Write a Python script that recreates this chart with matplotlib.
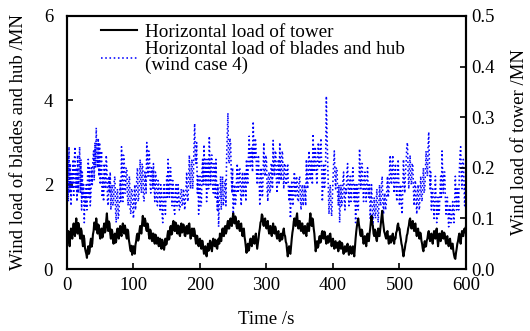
import matplotlib
matplotlib.use("Agg")
import matplotlib.pyplot as plt
import numpy as np

plt.rcParams['font.family'] = ['Liberation Serif', 'DejaVu Serif']
plt.rcParams['font.size'] = 13.5

# one read-off sample per second
time = np.arange(0, 601, 1)

# horizontal load of blades and hub, left axis (MN)
blade_load = [
    2.0, 2.7, 1.6, 2.9, 1.8, 2.5, 1.5, 2.3, 1.9, 2.6,
    1.7, 2.5, 2.9, 1.9, 2.4, 1.6, 2.7, 1.8, 2.2, 2.9,
    1.8, 2.6, 1.4, 2.3, 1.7, 2.0, 1.1, 1.8, 1.5, 2.0,
    1.4, 2.2, 2.6, 1.7, 2.4, 1.5, 1.8, 2.4, 2.0, 2.6,
    2.8, 2.1, 3.0, 2.4, 3.35, 2.6, 2.4, 3.1, 2.2, 3.0,
    2.0, 2.6, 2.8, 1.7, 2.2, 1.6, 2.5, 2.0, 1.9, 2.7,
    2.4, 1.6, 1.5, 2.2, 1.8, 2.3, 1.4, 1.9, 2.0, 1.5,
    1.6, 2.1, 2.2, 1.4, 1.1, 1.8, 1.9, 1.2, 1.3, 1.7,
    2.1, 1.6, 2.9, 2.3, 1.6, 2.7, 2.6, 1.8, 1.8, 2.4,
    2.4, 1.7, 1.5, 2.1, 2.2, 1.4, 1.3, 1.9, 1.9, 1.4,
    1.2, 1.8, 2.0, 1.4, 1.6, 2.2, 2.4, 1.6, 1.7, 2.1,
    2.6, 2.0, 1.8, 2.5, 2.4, 1.7, 1.6, 2.3, 2.2, 1.8,
    3.0, 2.5, 2.2, 2.8, 2.7, 2.0, 1.8, 2.4, 2.4, 1.9,
    2.5, 2.0, 1.6, 2.3, 2.2, 1.6, 1.5, 2.1, 2.0, 1.7,
    1.4, 2.0, 1.9, 1.3, 1.1, 1.7, 2.0, 1.5, 1.3, 1.8,
    2.2, 1.7, 2.6, 2.0, 1.7, 2.4, 2.4, 1.8, 1.5, 2.1,
    1.9, 1.4, 1.3, 1.8, 2.0, 1.5, 1.5, 2.0, 1.8, 1.4,
    1.4, 1.8, 1.9, 1.5, 1.5, 1.9, 1.8, 1.4, 1.6, 1.9,
    2.3, 1.7, 1.6, 2.2, 2.7, 2.0, 1.9, 2.5, 2.6, 1.9,
    2.2, 2.9, 3.45, 2.6, 2.5, 3.0, 1.8, 2.2, 1.3, 1.9,
    2.2, 1.5, 1.5, 2.3, 2.6, 2.0, 2.95, 2.4, 2.0, 2.6,
    1.6, 2.3, 2.6, 1.9, 3.15, 2.4, 2.0, 2.7, 2.7, 2.0,
    1.8, 2.5, 2.4, 1.7, 2.6, 1.9, 1.4, 2.0, 1.0, 1.6,
    1.7, 2.2, 1.4, 1.9, 2.2, 1.5, 1.6, 2.1, 2.1, 1.5,
    2.6, 3.2, 3.7, 2.6, 2.5, 3.1, 3.0, 2.3, 1.8, 2.4,
    1.2, 1.8, 2.0, 1.5, 1.6, 2.1, 2.5, 1.8, 1.9, 2.4,
    2.4, 1.8, 1.5, 2.1, 2.3, 1.7, 1.8, 2.3, 2.2, 1.6,
    2.6, 2.1, 2.0, 2.7, 3.15, 2.5, 2.4, 2.9, 2.9, 2.3,
    3.5, 2.8, 2.6, 3.1, 3.0, 2.3, 2.0, 2.6, 2.7, 2.1,
    1.5, 2.0, 2.4, 1.8, 1.7, 2.4, 3.0, 2.3, 2.2, 2.7,
    2.6, 1.9, 1.6, 2.2, 2.3, 1.8, 1.9, 2.5, 2.5, 1.9,
    3.05, 2.4, 2.2, 2.8, 2.8, 2.1, 1.8, 2.4, 2.6, 2.0,
    3.0, 2.4, 2.1, 2.7, 2.8, 2.2, 1.9, 2.5, 2.5, 2.0,
    2.0, 2.4, 2.5, 1.9, 1.6, 2.0, 1.2, 1.7, 2.1, 1.6,
    1.5, 2.0, 2.3, 1.7, 1.7, 2.2, 2.1, 1.6, 1.6, 2.1,
    2.2, 1.7, 1.4, 1.9, 2.0, 1.5, 1.6, 2.0, 1.9, 1.5,
    2.6, 2.1, 1.9, 2.5, 2.8, 2.2, 2.1, 2.6, 2.5, 2.0,
    3.2, 2.6, 2.3, 2.9, 2.8, 2.2, 2.0, 2.6, 3.0, 2.4,
    2.4, 2.9, 3.1, 2.4, 1.6, 2.1, 2.5, 1.9, 2.0, 2.6,
    4.1, 3.2, 2.6, 1.9, 1.3, 1.8, 2.0, 1.5, 1.25, 1.7,
    2.1, 2.5, 2.8, 2.2, 1.9, 2.4, 2.4, 1.8, 1.5, 2.0,
    1.1, 1.6, 2.0, 1.5, 1.6, 2.1, 2.3, 1.7, 1.4, 1.9,
    1.8, 2.3, 2.5, 1.9, 1.5, 2.0, 2.2, 1.6, 1.7, 2.2,
    2.4, 1.9, 1.6, 2.0, 1.1, 1.5, 2.0, 1.5, 1.4, 1.9,
    2.85, 2.2, 1.9, 2.5, 2.5, 1.9, 1.6, 2.1, 2.3, 1.8,
    1.6, 2.1, 2.4, 1.8, 1.7, 2.0, 1.2, 1.6, 2.0, 1.5,
    1.0, 1.4, 1.7, 1.3, 1.2, 1.6, 1.9, 1.4, 1.1, 1.5,
    2.0, 1.6, 1.5, 2.0, 2.2, 1.6, 1.3, 1.7, 1.8, 1.4,
    1.5, 1.9, 2.2, 1.7, 1.8, 2.3, 2.7, 2.1, 2.0, 2.5,
    2.7, 2.1, 1.8, 2.3, 2.5, 1.9, 1.6, 2.1, 2.6, 2.0,
    1.5, 1.9, 2.0, 1.5, 1.3, 1.9, 2.6, 2.1, 1.8, 2.3,
    2.5, 2.9, 3.0, 2.3, 1.9, 2.4, 2.7, 2.1, 2.0, 2.5,
    2.5, 1.9, 1.5, 2.0, 2.1, 1.6, 1.3, 1.8, 2.0, 1.5,
    1.4, 1.9, 2.2, 1.7, 1.6, 2.1, 2.4, 1.8, 1.9, 2.3,
    2.8, 2.4, 2.2, 2.9, 3.25, 2.5, 1.9, 2.3, 1.4, 1.8,
    1.9, 1.5, 1.2, 1.7, 2.2, 1.6, 1.1, 1.5, 1.7, 1.3,
    1.4, 1.9, 2.2, 1.7, 2.8, 2.2, 1.8, 2.3, 2.3, 1.7,
    1.3, 1.6, 1.7, 1.3, 1.0, 1.4, 1.5, 1.1, 1.1, 1.4,
    1.6, 1.3, 1.1, 1.6, 2.2, 1.7, 1.4, 1.9, 1.8, 1.4,
    2.3, 2.7, 2.9, 2.2, 1.9, 2.5, 2.6, 2.0, 1.5, 2.0,
    1.8,
]

# horizontal load of tower, right axis (MN)
tower_load = [
    0.050, 0.062, 0.075, 0.058, 0.045, 0.068, 0.080, 0.066, 0.060, 0.078,
    0.090, 0.072, 0.065, 0.088, 0.100, 0.082, 0.070, 0.091, 0.085, 0.068,
    0.060, 0.080, 0.075, 0.055, 0.045, 0.066, 0.060, 0.042, 0.035, 0.030,
    0.022, 0.038, 0.045, 0.030, 0.035, 0.052, 0.060, 0.044, 0.050, 0.068,
    0.075, 0.092, 0.090, 0.078, 0.100, 0.084, 0.070, 0.088, 0.085, 0.068,
    0.060, 0.074, 0.080, 0.062, 0.065, 0.082, 0.090, 0.072, 0.075, 0.096,
    0.110, 0.088, 0.075, 0.094, 0.090, 0.070, 0.060, 0.078, 0.075, 0.058,
    0.050, 0.064, 0.070, 0.052, 0.055, 0.074, 0.080, 0.064, 0.060, 0.078,
    0.085, 0.070, 0.065, 0.082, 0.090, 0.074, 0.070, 0.086, 0.080, 0.066,
    0.060, 0.078, 0.075, 0.058, 0.050, 0.040, 0.035, 0.046, 0.028, 0.038,
    0.045, 0.034, 0.030, 0.048, 0.055, 0.066, 0.070, 0.056, 0.060, 0.076,
    0.085, 0.072, 0.070, 0.090, 0.105, 0.088, 0.085, 0.100, 0.095, 0.080,
    0.075, 0.090, 0.085, 0.068, 0.060, 0.078, 0.075, 0.060, 0.055, 0.070,
    0.070, 0.056, 0.050, 0.068, 0.065, 0.050, 0.055, 0.062, 0.045, 0.054,
    0.060, 0.046, 0.040, 0.058, 0.055, 0.042, 0.038, 0.050, 0.060, 0.048,
    0.050, 0.066, 0.075, 0.058, 0.060, 0.080, 0.085, 0.068, 0.070, 0.088,
    0.095, 0.080, 0.075, 0.092, 0.090, 0.074, 0.070, 0.086, 0.085, 0.068,
    0.065, 0.082, 0.090, 0.072, 0.075, 0.088, 0.080, 0.066, 0.065, 0.080,
    0.085, 0.070, 0.070, 0.088, 0.090, 0.072, 0.060, 0.074, 0.080, 0.066,
    0.065, 0.080, 0.075, 0.060, 0.050, 0.066, 0.065, 0.050, 0.045, 0.058,
    0.060, 0.046, 0.040, 0.056, 0.055, 0.040, 0.030, 0.042, 0.045, 0.032,
    0.025, 0.040, 0.050, 0.036, 0.040, 0.056, 0.055, 0.040, 0.035, 0.050,
    0.060, 0.048, 0.045, 0.058, 0.055, 0.042, 0.040, 0.054, 0.060, 0.050,
    0.070, 0.058, 0.055, 0.072, 0.080, 0.066, 0.065, 0.082, 0.085, 0.070,
    0.075, 0.088, 0.095, 0.080, 0.080, 0.096, 0.100, 0.086, 0.085, 0.100,
    0.110, 0.094, 0.090, 0.104, 0.100, 0.084, 0.080, 0.092, 0.095, 0.080,
    0.075, 0.088, 0.090, 0.074, 0.065, 0.078, 0.080, 0.064, 0.055, 0.044,
    0.032, 0.044, 0.050, 0.036, 0.040, 0.054, 0.060, 0.048, 0.045, 0.058,
    0.065, 0.052, 0.050, 0.064, 0.070, 0.054, 0.040, 0.050, 0.060, 0.072,
    0.080, 0.092, 0.095, 0.108, 0.105, 0.088, 0.085, 0.098, 0.100, 0.086,
    0.080, 0.090, 0.095, 0.078, 0.070, 0.084, 0.085, 0.070, 0.065, 0.080,
    0.090, 0.076, 0.070, 0.084, 0.080, 0.066, 0.060, 0.072, 0.075, 0.062,
    0.055, 0.066, 0.070, 0.058, 0.060, 0.074, 0.080, 0.068, 0.065, 0.054,
    0.050, 0.036, 0.025, 0.038, 0.045, 0.032, 0.030, 0.046, 0.060, 0.072,
    0.080, 0.094, 0.100, 0.086, 0.085, 0.102, 0.110, 0.092, 0.080, 0.094,
    0.095, 0.080, 0.075, 0.090, 0.090, 0.074, 0.070, 0.084, 0.085, 0.070,
    0.065, 0.080, 0.090, 0.076, 0.075, 0.096, 0.110, 0.092, 0.085, 0.100,
    0.095, 0.080, 0.070, 0.052, 0.035, 0.046, 0.055, 0.042, 0.045, 0.058,
    0.065, 0.052, 0.055, 0.070, 0.075, 0.062, 0.060, 0.074, 0.070, 0.058,
    0.050, 0.062, 0.065, 0.052, 0.055, 0.068, 0.070, 0.056, 0.045, 0.056,
    0.060, 0.048, 0.040, 0.054, 0.055, 0.042, 0.045, 0.052, 0.035, 0.046,
    0.055, 0.044, 0.040, 0.052, 0.050, 0.038, 0.030, 0.040, 0.045, 0.034,
    0.035, 0.046, 0.050, 0.036, 0.028, 0.040, 0.045, 0.034, 0.030, 0.040,
    0.045, 0.034, 0.025, 0.044, 0.060, 0.074, 0.085, 0.094, 0.100, 0.088,
    0.080, 0.068, 0.065, 0.078, 0.075, 0.060, 0.050, 0.058, 0.065, 0.052,
    0.045, 0.058, 0.070, 0.056, 0.055, 0.070, 0.080, 0.094, 0.105, 0.090,
    0.085, 0.070, 0.065, 0.078, 0.075, 0.060, 0.055, 0.068, 0.080, 0.066,
    0.065, 0.078, 0.090, 0.102, 0.115, 0.096, 0.085, 0.074, 0.070, 0.064,
    0.060, 0.072, 0.075, 0.060, 0.050, 0.062, 0.065, 0.052, 0.055, 0.066,
    0.070, 0.058, 0.050, 0.062, 0.060, 0.072, 0.075, 0.086, 0.090, 0.078,
    0.080, 0.068, 0.060, 0.050, 0.045, 0.034, 0.025, 0.034, 0.040, 0.050,
    0.055, 0.066, 0.070, 0.080, 0.085, 0.096, 0.100, 0.088, 0.080, 0.092,
    0.095, 0.082, 0.075, 0.088, 0.090, 0.074, 0.065, 0.076, 0.080, 0.068,
    0.060, 0.072, 0.070, 0.056, 0.050, 0.040, 0.035, 0.046, 0.055, 0.044,
    0.045, 0.056, 0.060, 0.070, 0.075, 0.062, 0.055, 0.066, 0.070, 0.058,
    0.050, 0.064, 0.075, 0.062, 0.060, 0.074, 0.080, 0.060, 0.045, 0.058,
    0.070, 0.058, 0.055, 0.068, 0.075, 0.062, 0.060, 0.072, 0.070, 0.058,
    0.050, 0.062, 0.065, 0.052, 0.045, 0.056, 0.060, 0.048, 0.040, 0.050,
    0.050, 0.036, 0.028, 0.022, 0.020, 0.032, 0.040, 0.050, 0.055, 0.064,
    0.070, 0.058, 0.050, 0.064, 0.075, 0.066, 0.065, 0.078, 0.080, 0.072,
    0.085,
]

fig = plt.figure(figsize=(5.30, 3.31), dpi=100)
ax = fig.add_axes([0.1264, 0.1873, 0.7528, 0.7644])
ax2 = ax.twinx()

l_blade, = ax.plot(time, blade_load, color='#0000ff', linestyle=':', linewidth=1.15)
l_tower, = ax2.plot(time, tower_load, color='black', linestyle='-', linewidth=1.5)

ax.set_xlim(0, 600)
ax.set_ylim(0, 6)
ax2.set_ylim(0, 0.5)
ax.set_xticks([0, 100, 200, 300, 400, 500, 600])
ax.set_yticks([0, 2, 4, 6])
ax2.set_yticks([0.0, 0.1, 0.2, 0.3, 0.4, 0.5])
ax2.set_yticklabels(['0.0', '0.1', '0.2', '0.3', '0.4', '0.5'])

for a in (ax, ax2):
    a.tick_params(direction='in', length=4, width=1.2)
    for sp in a.spines.values():
        sp.set_linewidth(1.5)
ax.tick_params(axis='x', pad=6)
ax.tick_params(axis='y', pad=10)

ax.set_xlabel('Time /s', labelpad=12)
ax.set_ylabel('Wind load of blades and hub /MN', labelpad=12)
ax2.set_ylabel('Wind load of tower /MN', labelpad=12)

leg = ax.legend([l_tower, l_blade],
                ['Horizontal load of tower', 'Horizontal load of blades and hub\n(wind case 4)'],
                loc='upper left', bbox_to_anchor=(0.065, 1.0), frameon=False,
                prop={'size': 13.8},
                handlelength=1.9, handletextpad=0.4, labelspacing=0.0, borderaxespad=0)
for txt in leg.get_texts():
    txt.set_linespacing(0.93)
leg.get_lines()[0].set_linewidth(1.5)
leg.get_lines()[1].set_linewidth(1.15)

fig.savefig('out.png', dpi=100)
